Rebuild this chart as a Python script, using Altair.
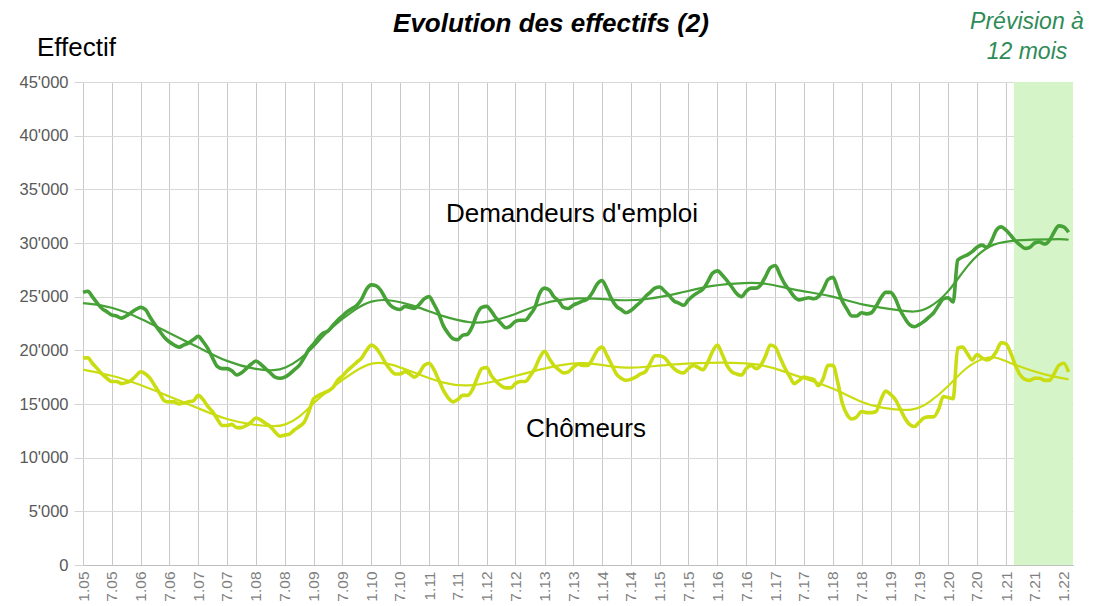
import altair as alt
import pandas as pd

# ---------------- data (values in thousands) ----------------
start_month = "2005-01-01"
n_months = 206

demandeurs = [
    25.4, 25.5, 25.0, 24.4, 23.9, 23.6, 23.3, 23.2, 23.0, 23.2, 23.5, 23.8,
    24.0, 23.8, 23.1, 22.4, 21.8, 21.2, 20.8, 20.5, 20.3, 20.5, 20.7, 21.0,
    21.3, 20.8, 20.2, 19.3, 18.5, 18.3, 18.3, 18.1, 17.7, 17.9, 18.3, 18.7,
    19.0, 18.7, 18.3, 17.9, 17.5, 17.4, 17.5, 17.8, 18.2, 18.6, 19.3, 20.1,
    20.6, 21.2, 21.6, 21.8, 22.3, 22.8, 23.2, 23.6, 23.9, 24.2, 24.8, 25.7,
    26.1, 26.0, 25.6, 24.8, 24.2, 23.9, 23.8, 24.1, 24.0, 23.9, 24.3, 24.8,
    25.0, 24.3, 23.5, 22.3, 21.6, 21.1, 21.0, 21.4, 21.5, 22.2, 23.4, 24.0,
    24.1, 23.6, 23.0, 22.5, 22.1, 22.3, 22.7, 22.8, 22.8, 23.3, 24.0, 25.3,
    25.8, 25.6, 25.0, 24.6, 24.0, 23.9, 24.2, 24.4, 24.6, 24.8, 25.4, 26.2,
    26.5, 25.7, 24.8, 24.1, 23.8, 23.5, 23.7, 24.1, 24.5, 25.0, 25.4, 25.8,
    25.9, 25.5, 25.1, 24.6, 24.4, 24.2, 24.7, 25.1, 25.4, 25.7, 26.4, 27.2,
    27.4, 27.0, 26.5, 25.9, 25.3, 25.0, 25.5, 25.8, 25.8, 26.1, 26.9, 27.7,
    27.9, 27.0, 26.2, 25.6, 25.0, 24.7, 24.8, 24.9, 24.8, 25.0, 25.7, 26.6,
    26.8, 25.7, 24.6, 23.8, 23.2, 23.2, 23.5, 23.4, 23.5, 24.1, 24.9, 25.4,
    25.4, 24.8, 23.8, 23.0, 22.4, 22.2, 22.4, 22.7, 23.1, 23.5, 24.2, 24.8,
    24.9, 24.5, 28.4, 28.7, 28.9, 29.2, 29.6, 29.8, 29.6, 30.2, 31.2, 31.5,
    31.2, 30.7, 30.2, 29.8, 29.5, 29.6, 30.0, 30.1, 29.9, 30.2, 31.0, 31.6,
    31.5, 31.0,
]

chomeurs = [
    19.3, 19.3, 18.8, 18.3, 17.8, 17.4, 17.1, 17.1, 16.9, 17.0, 17.2, 17.6,
    18.0, 17.8, 17.4, 16.7, 16.0, 15.3, 15.2, 15.2, 15.0, 15.1, 15.2, 15.3,
    15.8, 15.4, 14.8, 14.3, 13.6, 13.0, 13.0, 13.1, 12.8, 12.8, 13.0, 13.3,
    13.7, 13.5, 13.2, 12.9, 12.4, 12.0, 12.1, 12.2, 12.6, 12.9, 13.3, 14.3,
    15.5, 15.8, 16.0, 16.2, 16.5, 17.2, 17.6, 18.1, 18.5, 18.9, 19.3, 20.0,
    20.5, 20.2, 19.6, 18.8, 18.2, 17.8, 17.8, 18.0, 17.8, 17.5, 17.9, 18.6,
    18.8, 18.2, 17.3, 16.3, 15.6, 15.2, 15.4, 15.8, 15.8, 16.3, 17.4, 18.3,
    18.4, 17.6, 17.1, 16.7, 16.5, 16.5, 16.9, 17.1, 17.1, 17.6, 18.3, 19.3,
    19.9, 19.2, 18.6, 18.2, 17.9, 18.0, 18.4, 18.7, 18.6, 18.6, 19.2, 20.0,
    20.3, 19.5, 18.7, 17.8, 17.4, 17.2, 17.3, 17.5, 17.8, 18.0, 18.8, 19.5,
    19.5, 19.3, 18.8, 18.3, 18.0, 17.9, 18.3, 18.6, 18.4, 18.2, 18.9, 19.9,
    20.5, 19.6, 18.6, 18.0, 17.8, 17.7, 18.3, 18.6, 18.3, 18.6, 19.5, 20.5,
    20.3, 19.3, 18.4, 17.6, 16.9, 17.2, 17.5, 17.4, 17.3, 16.7, 17.4, 18.6,
    18.6, 17.0, 15.1, 14.0, 13.6, 13.8, 14.3, 14.2, 14.2, 14.3, 15.4, 16.2,
    15.9, 15.4, 14.6, 13.7, 13.1, 12.9, 13.3, 13.7, 13.8, 13.8, 14.5, 15.7,
    15.6, 15.5, 20.2, 20.3, 19.7, 19.1, 19.6, 19.3, 19.1, 19.3, 19.9, 20.7,
    20.6, 19.7, 18.6, 17.7, 17.3, 17.2, 17.4, 17.4, 17.2, 17.2, 17.8, 18.6,
    18.8, 18.0,
]

trend_dem_months = [0, 6, 12, 18, 24, 30, 36, 40, 42, 45, 48, 51, 57, 60, 63,
                    69, 75, 81, 84, 90, 95, 103, 112, 117, 124, 131, 138, 142,
                    148, 156, 162, 169, 173, 176, 180, 184, 189, 197, 204, 205]
trend_dem_values = [24.4, 24.1, 23.0, 21.6, 20.3, 18.9, 18.2, 18.1, 18.3, 19.1,
                    20.3, 21.9, 24.0, 24.6, 24.8, 24.2, 23.1, 22.5, 22.6, 23.3,
                    24.4, 25.0, 24.6, 24.7, 25.3, 26.1, 26.3, 26.3, 25.6, 25.1,
                    24.2, 23.8, 23.5, 23.9, 25.3, 28.0, 30.2, 30.3, 30.4, 30.3]

trend_cho_months = [0, 6, 12, 18, 24, 30, 36, 40, 42, 45, 48, 51, 57, 60, 64,
                    69, 75, 80, 86, 93, 100, 104, 110, 114, 120, 130, 141, 146,
                    152, 156, 162, 166, 173, 176, 180, 184, 188, 190, 194, 200,
                    205]
trend_cho_values = [18.2, 17.7, 16.8, 15.7, 14.6, 13.5, 13.0, 12.9, 13.0, 13.7,
                    15.1, 16.3, 18.2, 18.9, 18.8, 17.9, 16.9, 16.6, 17.1, 18.0,
                    18.7, 18.9, 18.5, 18.3, 18.6, 18.9, 18.8, 18.0, 17.1, 16.5,
                    15.1, 14.6, 14.3, 15.1, 16.6, 18.6, 19.4, 19.4, 18.6, 17.7,
                    17.3]

tick_labels = ["1.05", "7.05", "1.06", "7.06", "1.07", "7.07", "1.08", "7.08",
               "1.09", "7.09", "1.10", "7.10", "1.11", "7.11", "1.12", "7.12",
               "1.13", "7.13", "1.14", "7.14", "1.15", "7.15", "1.16", "7.16",
               "1.17", "7.17", "1.18", "7.18", "1.19", "7.19", "1.20", "7.20",
               "1.21", "7.21", "1.22"]

forecast_start = "2021-02-20"
forecast_end = "2022-03-01"
axis_end = "2022-03-01"

# ---------------- build tables ----------------
months = pd.date_range(start_month, periods=n_months, freq="MS")
mstr = [d.strftime("%Y-%m-%d") for d in months]

raw = pd.DataFrame({
    "date": mstr * 2,
    "value": [v * 1000 for v in demandeurs] + [v * 1000 for v in chomeurs],
    "serie": ["Demandeurs d'emploi"] * n_months + ["Chômeurs"] * n_months,
})
tr_dem = pd.DataFrame({"date": [mstr[i] for i in trend_dem_months],
                       "value": [v * 1000 for v in trend_dem_values]})
tr_cho = pd.DataFrame({"date": [mstr[i] for i in trend_cho_months],
                       "value": [v * 1000 for v in trend_cho_values]})
band = pd.DataFrame({"start": [forecast_start], "end": [forecast_end]})


def ms(s):
    return int(pd.Timestamp(s, tz="UTC").value // 10**6)


tick_values = [ms(f"20{t.split('.')[1]}-{int(t.split('.')[0]):02d}-01") for t in tick_labels]

DARK = "#46A136"
LIME = "#C9DD12"
FONT = "Liberation Sans"

xscale = alt.Scale(type="utc", domain=[ms(start_month), ms(axis_end)])
yscale = alt.Scale(domain=[0, 45000], nice=False)

xaxis = alt.Axis(values=tick_values, labelExpr="utcFormat(datum.value, '%-m.%y')",
                 labelAngle=270, labelColor="#7F7F7F", labelFontSize=15.5,
                 labelFont=FONT, labelPadding=6, ticks=False, grid=True,
                 gridColor="#C9C9C9", gridWidth=1, domainColor="#BFBFBF",
                 title=None, labelOverlap=False)
yaxis = alt.Axis(values=list(range(0, 45001, 5000)),
                 labelExpr="replace(format(datum.value, ','), ',', \"'\")",
                 labelColor="#595959", labelFontSize=16.5, labelFont=FONT,
                 tickColor="#D4D4D4", tickSize=9, labelPadding=6, grid=True,
                 gridColor="#D9D9D9", gridWidth=1.2, domain=False, title=None)

band_layer = alt.Chart(band).mark_rect(color="#D5F5C9").encode(
    x=alt.X("start:T", scale=xscale, axis=xaxis),
    x2="end:T",
    y=alt.value(0),
    y2=alt.value(483),
)

raw_dem = alt.Chart(raw).transform_filter(alt.datum.serie == "Demandeurs d'emploi").mark_line(
    color=DARK, strokeWidth=3.6, interpolate="monotone").encode(
    x=alt.X("date:T", scale=xscale, axis=xaxis),
    y=alt.Y("value:Q", scale=yscale, axis=yaxis),
)
raw_cho = alt.Chart(raw).transform_filter(alt.datum.serie == "Chômeurs").mark_line(
    color=LIME, strokeWidth=3.6, interpolate="monotone").encode(
    x=alt.X("date:T", scale=xscale, axis=xaxis),
    y=alt.Y("value:Q", scale=yscale, axis=yaxis),
)
trend_dem = alt.Chart(tr_dem).mark_line(color=DARK, strokeWidth=2.2, interpolate="basis").encode(
    x=alt.X("date:T", scale=xscale, axis=xaxis),
    y=alt.Y("value:Q", scale=yscale, axis=yaxis),
)
trend_cho = alt.Chart(tr_cho).mark_line(color=LIME, strokeWidth=2.2, interpolate="basis").encode(
    x=alt.X("date:T", scale=xscale, axis=xaxis),
    y=alt.Y("value:Q", scale=yscale, axis=yaxis),
)

one = pd.DataFrame({"k": [0]})


def label(text, x, y, size, color="#000000", style="normal", weight="normal", align="center"):
    return alt.Chart(one).mark_text(text=text, fontSize=size, font=FONT, color=color,
                                    fontStyle=style, fontWeight=weight, align=align,
                                    baseline="alphabetic").encode(x=alt.value(x), y=alt.value(y))


texts = [
    label("Evolution des effectifs (2)", 468, -50, 26, style="italic", weight="bold"),
    label("Effectif", -46, -26, 26, align="left"),
    label("Prévision à", 944, -53, 23, color="#2E8B57", style="italic"),
    label("12 mois", 944, -23, 23, color="#2E8B57", style="italic"),
    label("Demandeurs d'emploi", 489, 140, 26),
    label("Chômeurs", 503, 355, 26),
]

chart = alt.layer(band_layer, trend_cho, trend_dem, raw_cho, raw_dem, *texts).properties(
    width=990, height=483,
    autosize=alt.AutoSizeParams(type="none"),
    padding={"left": 75, "top": 74, "right": 20, "bottom": 40},
    background="white",
).configure_view(strokeWidth=0)

chart.save("out.html", embed_options={"renderer": "svg", "actions": False})
